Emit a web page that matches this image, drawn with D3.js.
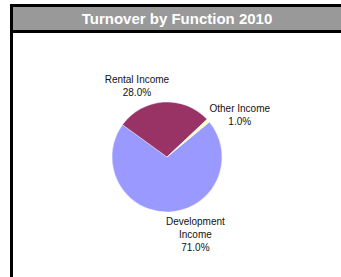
<!DOCTYPE html>
<html>
<head>
<meta charset="utf-8">
<script src="https://cdn.jsdelivr.net/npm/d3@7"></script>
<style>
	html, body { margin: 0; padding: 0; background: #fff; }
	svg { display: block; font-family: 'Liberation Sans', Arial, sans-serif; }
</style>
</head>
<body>
<div id="canvas"></div>
<script>
// Data
var title = 'Turnover by Function 2010',
	categories = ['Development Income', 'Rental Income', 'Other Income'],
	labelLines = [['Development', 'Income'], ['Rental Income'], ['Other Income']],
	shares = [71.0, 28.0, 1.0],
	colors = ['#9999ff', '#993366', '#ffffcc'];

document.addEventListener('DOMContentLoaded', function() {

	var width = 341,
		height = 277,
		frame = { left: 10, top: 4, line: 3, titleH: 23 },
		center = { x: 167, y: 157 },
		radius = 55,
		lineH = 13;

	// where the excel-ish labels sit, relative to each slice (angle in deg, distance in px)
	var labelPlace = {
		'Development Income': { angle: 160, dist: 83 },
		'Rental Income': { angle: -23, dist: 77 },
		'Other Income': { angle: 60, dist: 84 }
	};

	var svg = d3.select('#canvas').append('svg')
		.attr('width', width)
		.attr('height', height);

	// Frame + title bar
	svg.append('rect')
		.attr('x', frame.left).attr('y', frame.top)
		.attr('width', width - frame.left).attr('height', frame.line * 2 + frame.titleH)
		.attr('fill', '#000');
	svg.append('rect')
		.attr('x', frame.left).attr('y', frame.top)
		.attr('width', frame.line).attr('height', height - frame.top)
		.attr('fill', '#000');
	svg.append('rect')
		.attr('x', frame.left + frame.line).attr('y', frame.top + frame.line)
		.attr('width', width - frame.left - frame.line).attr('height', frame.titleH)
		.attr('fill', '#999999');
	svg.append('text')
		.attr('x', (frame.left + frame.line + width) / 2)
		.attr('y', frame.top + frame.line + frame.titleH / 2 + 5.5)
		.attr('text-anchor', 'middle')
		.attr('fill', '#fff')
		.attr('font-weight', 'bold')
		.attr('font-size', 15)
		.text(title);

	// Pie
	var data = categories.map(function(c, i) {
		return { name: c, value: shares[i], color: colors[i], lines: labelLines[i] };
	});

	var start = 50.4 * Math.PI / 180;
	var pie = d3.pie()
		.sort(null)
		.value(function(d) { return d.value; })
		.startAngle(start)
		.endAngle(start + 2 * Math.PI);
	var arc = d3.arc().innerRadius(0).outerRadius(radius);

	var g = svg.append('g')
		.attr('transform', 'translate(' + center.x + ',' + center.y + ')');

	g.selectAll('path')
		.data(pie(data))
		.enter().append('path')
		.attr('d', arc)
		.attr('fill', function(d) { return d.data.color; })
		.attr('stroke', '#fff')
		.attr('stroke-width', 0.4);

	// Labels
	var labels = g.selectAll('text.label')
		.data(pie(data))
		.enter().append('text')
		.attr('class', 'label')
		.attr('text-anchor', 'middle')
		.attr('font-size', 10)
		.attr('fill', '#111')
		.attr('transform', function(d) {
			var p = labelPlace[d.data.name],
				a = p.angle * Math.PI / 180;
			return 'translate(' + (Math.sin(a) * p.dist) + ',' + (-Math.cos(a) * p.dist) + ')';
		});

	labels.each(function(d) {
		var lines = d.data.lines.concat([d3.format('.1f')(d.data.value) + '%']),
			top = -(lines.length - 1) * lineH / 2;
		var t = d3.select(this);
		lines.forEach(function(l, i) {
			t.append('tspan')
				.attr('x', 0)
				.attr('y', top + i * lineH + 3.5)
				.text(l);
		});
	});

});
</script>
</body>
</html>
